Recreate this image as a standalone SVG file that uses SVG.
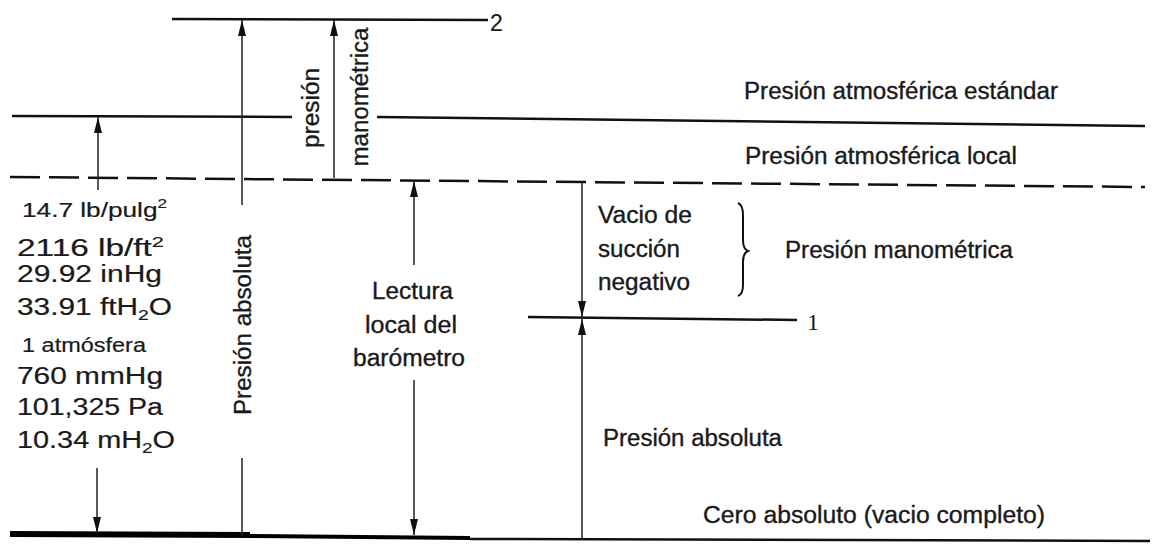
<svg xmlns="http://www.w3.org/2000/svg" width="1156" height="544" viewBox="0 0 1156 544">
<defs>
<style>
.t{font-family:"Liberation Sans Narrow","Liberation Sans",Arial,sans-serif;fill:#1a1a1a;font-size:23px;stroke:#1a1a1a;stroke-width:0.35}
.n{font-family:"Liberation Sans",Arial,sans-serif;fill:#1a1a1a;font-size:23px;stroke:#1a1a1a;stroke-width:0.2}
.s{font-size:20px}
.ln{stroke:#111;fill:none;stroke-width:2.5}
.v{stroke:#222;fill:none;stroke-width:1.5}
</style>
<marker id="arr" viewBox="0 0 16 8" refX="16" refY="4" markerWidth="16" markerHeight="8" markerUnits="userSpaceOnUse" orient="auto">
<path d="M0,0 L16,4 L0,8 Z" fill="#111"/>
</marker>
</defs>
<rect width="1156" height="544" fill="#fff"/>

<g id="levels">
<line class="ln" x1="172" y1="19" x2="488" y2="20"/>
<line class="ln" x1="12" y1="116" x2="292" y2="117"/>
<line class="ln" x1="377" y1="117" x2="1145" y2="126" stroke-width="3"/>
<line class="ln" x1="10" y1="177" x2="1145" y2="187" stroke-dasharray="30 9"/>
<line class="ln" x1="528" y1="317" x2="797" y2="320" stroke-width="2"/>
<path d="M10,534 L250,535" stroke="#000" stroke-width="6" fill="none"/>
<path d="M250,536 L470,538" stroke="#000" stroke-width="4" fill="none"/>
<path d="M470,539 L1150,541" stroke="#111" stroke-width="2.5" fill="none"/>
</g>

<g id="connectors">
<line class="v" x1="98" y1="190" x2="98" y2="117" marker-end="url(#arr)"/>
<line class="v" x1="97" y1="468" x2="97" y2="533" marker-end="url(#arr)"/>
<line class="v" x1="242" y1="205" x2="242" y2="20" marker-end="url(#arr)"/>
<line class="v" x1="242" y1="458" x2="242" y2="536"/>
<line class="v" x1="334" y1="178" x2="334" y2="20" marker-end="url(#arr)"/>
<line class="v" x1="414" y1="265" x2="414" y2="181" marker-end="url(#arr)"/>
<line class="v" x1="414" y1="380" x2="414" y2="535" marker-end="url(#arr)"/>
<line class="v" x1="582" y1="183" x2="582" y2="317" marker-end="url(#arr)"/>
<line class="v" x1="582" y1="540" x2="582" y2="319" marker-end="url(#arr)"/>
<path d="M738,203 Q743,205 743,215 L743,240 Q743,249 748,251 Q743,253 743,262 L743,285 Q743,294 738,296" stroke="#111" stroke-width="2" fill="none"/>
</g>

<g id="labels-top">
<text class="n" x="490" y="31" font-size="25">2</text>
<text x="807" y="330" font-family="Liberation Serif,serif" font-size="24" fill="#1a1a1a">1</text>
<text class="t" transform="translate(319,108) rotate(-90)" text-anchor="middle" textLength="80" lengthAdjust="spacingAndGlyphs">presión</text>
<text class="t" transform="translate(368,97) rotate(-90)" text-anchor="middle" textLength="139" lengthAdjust="spacingAndGlyphs">manométrica</text>
<text class="t" transform="translate(251,325) rotate(-90)" text-anchor="middle" textLength="180" lengthAdjust="spacingAndGlyphs">Presión absoluta</text>
</g>

<g id="labels-right">
<text class="t" x="744" y="99" textLength="314" lengthAdjust="spacingAndGlyphs">Presión atmosférica estándar</text>
<text class="t" x="745" y="164" textLength="272" lengthAdjust="spacingAndGlyphs">Presión atmosférica local</text>
<text class="t" x="785" y="258" textLength="228" lengthAdjust="spacingAndGlyphs">Presión manométrica</text>
<text class="t" x="598" y="223" textLength="94" lengthAdjust="spacingAndGlyphs">Vacio de</text>
<text class="t" x="598" y="257" textLength="82" lengthAdjust="spacingAndGlyphs">succión</text>
<text class="t" x="598" y="290" textLength="92" lengthAdjust="spacingAndGlyphs">negativo</text>
<text class="t" x="603" y="446" textLength="179" lengthAdjust="spacingAndGlyphs">Presión absoluta</text>
<text class="t" x="703" y="523" textLength="342" lengthAdjust="spacingAndGlyphs">Cero absoluto (vacio completo)</text>
</g>

<g id="labels-barometer">
<text class="t" x="372" y="299" textLength="81" lengthAdjust="spacingAndGlyphs">Lectura</text>
<text class="t" x="365" y="333" textLength="92" lengthAdjust="spacingAndGlyphs">local del</text>
<text class="t" x="353" y="366" textLength="112" lengthAdjust="spacingAndGlyphs">barómetro</text>
</g>

<g id="labels-left">
<text class="n s" x="22" y="217" textLength="145" lengthAdjust="spacingAndGlyphs">14.7 lb/pulg<tspan font-size="13" dy="-9">2</tspan></text>
<text class="n" x="17" y="256" textLength="147" lengthAdjust="spacingAndGlyphs">2116 lb/ft<tspan font-size="15" dy="-9">2</tspan></text>
<text class="n" x="17" y="282" textLength="145" lengthAdjust="spacingAndGlyphs">29.92 inHg</text>
<text class="n" x="17" y="315" textLength="155" lengthAdjust="spacingAndGlyphs">33.91 ftH<tspan font-size="15" dy="5">2</tspan><tspan dy="-5">O</tspan></text>
<text class="n s" x="22" y="352" textLength="124" lengthAdjust="spacingAndGlyphs">1 atmósfera</text>
<text class="n" x="17" y="384" textLength="146" lengthAdjust="spacingAndGlyphs">760 mmHg</text>
<text class="n" x="17" y="415" textLength="146" lengthAdjust="spacingAndGlyphs">101,325 Pa</text>
<text class="n" x="17" y="448" textLength="158" lengthAdjust="spacingAndGlyphs">10.34 mH<tspan font-size="15" dy="5">2</tspan><tspan dy="-5">O</tspan></text>
</g>
</svg>
